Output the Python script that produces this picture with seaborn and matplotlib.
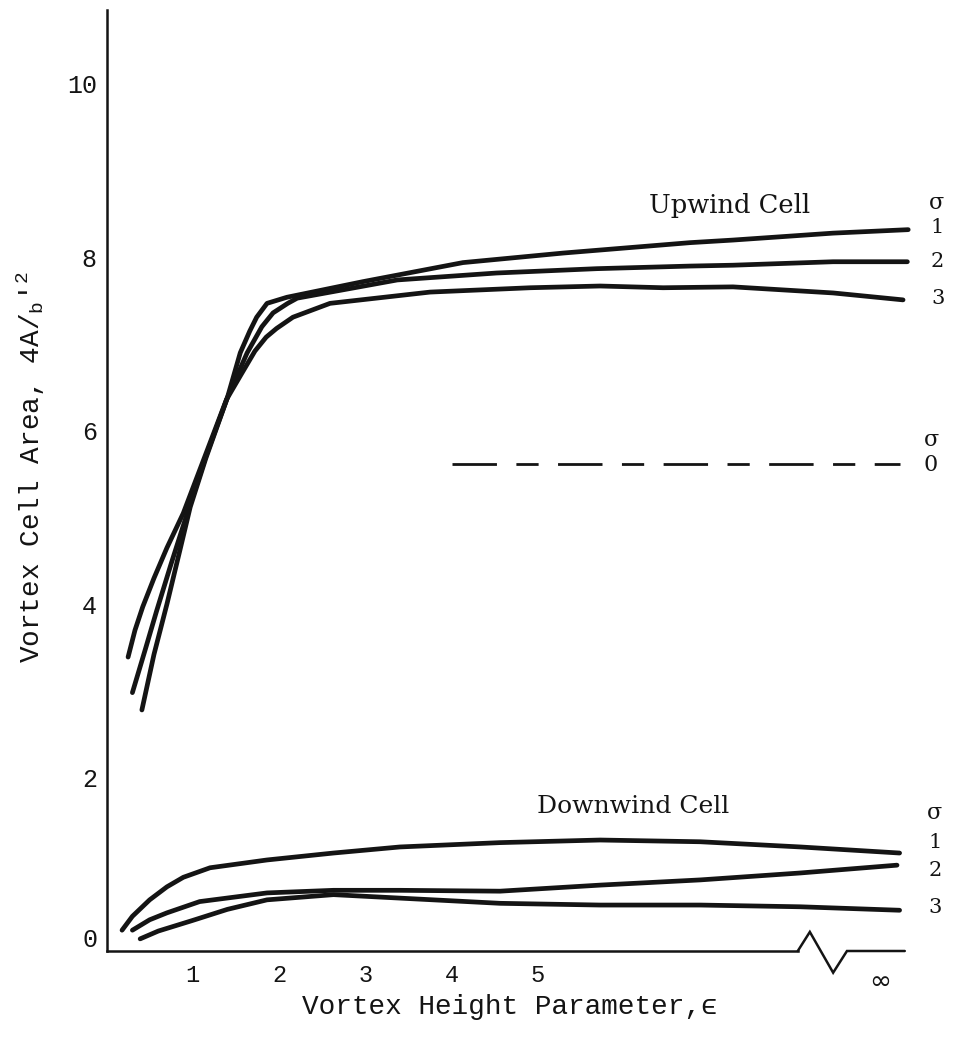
import matplotlib
matplotlib.use("Agg")
import matplotlib.pyplot as plt
import seaborn as sns
import pandas as pd

# Vortex height parameter (plot position; the far right stands for epsilon -> infinity)
UP_S1_EPS = [0.41, 0.55, 0.70, 0.85, 0.97, 1.15, 1.40, 1.55, 1.66, 1.74, 1.86, 2.09,
             2.97, 4.13, 5.29, 6.76, 7.26, 8.42, 9.29]
UP_S1_AREA = [2.78, 3.42, 4.00, 4.62, 5.12, 5.68, 6.38, 6.90, 7.15, 7.31, 7.47, 7.54,
              7.72, 7.94, 8.05, 8.17, 8.20, 8.28, 8.32]

UP_S2_EPS = [0.30, 0.45, 0.58, 0.75, 0.92, 1.15, 1.40, 1.63, 1.80, 1.93, 2.10, 2.21,
             3.37, 4.52, 5.68, 6.76, 7.26, 8.42, 9.28]
UP_S2_AREA = [2.98, 3.48, 3.92, 4.47, 5.00, 5.70, 6.38, 6.90, 7.20, 7.36, 7.47, 7.53,
              7.74, 7.82, 7.87, 7.90, 7.91, 7.95, 7.95]

UP_S3_EPS = [0.25, 0.33, 0.42, 0.55, 0.70, 0.89, 1.10, 1.39, 1.56, 1.72, 1.85, 1.97, 2.16,
             2.59, 3.75, 4.91, 5.72, 6.45, 7.26, 8.42, 9.23]
UP_S3_AREA = [3.39, 3.70, 3.97, 4.30, 4.65, 5.05, 5.60, 6.36, 6.65, 6.92, 7.08, 7.18, 7.31,
              7.47, 7.60, 7.65, 7.67, 7.65, 7.66, 7.59, 7.51]

DN_S1_EPS = [0.18, 0.30, 0.50, 0.70, 0.89, 1.20, 1.86, 2.63, 3.40, 4.56, 5.72, 6.88, 8.04, 9.19]
DN_S1_AREA = [0.24, 0.40, 0.59, 0.74, 0.85, 0.96, 1.05, 1.13, 1.20, 1.25, 1.28, 1.26, 1.20, 1.13]

DN_S2_EPS = [0.30, 0.50, 0.70, 1.08, 1.86, 2.63, 3.40, 4.56, 5.72, 6.88, 8.04, 9.16]
DN_S2_AREA = [0.24, 0.36, 0.44, 0.57, 0.67, 0.70, 0.70, 0.69, 0.76, 0.82, 0.90, 0.99]

DN_S3_EPS = [0.39, 0.60, 0.99, 1.40, 1.86, 2.63, 3.40, 4.56, 5.72, 6.88, 8.04, 9.19]
DN_S3_AREA = [0.14, 0.23, 0.35, 0.48, 0.59, 0.65, 0.61, 0.55, 0.53, 0.53, 0.51, 0.47]

SIGMA0_AREA = 5.62
SIGMA0_EPS = [4.0, 9.2]

X_TICKS = [1, 2, 3, 4, 5]
Y_TICKS = [0, 2, 4, 6, 8, 10]
SIGMA_LABELS = ["1", "2", "3"]

series = [
    ("Upwind", "1", UP_S1_EPS, UP_S1_AREA),
    ("Upwind", "2", UP_S2_EPS, UP_S2_AREA),
    ("Upwind", "3", UP_S3_EPS, UP_S3_AREA),
    ("Downwind", "1", DN_S1_EPS, DN_S1_AREA),
    ("Downwind", "2", DN_S2_EPS, DN_S2_AREA),
    ("Downwind", "3", DN_S3_EPS, DN_S3_AREA),
]
df = pd.concat(
    [pd.DataFrame({"cell": c, "sigma": s, "eps": e, "area": a}) for c, s, e, a in series],
    ignore_index=True,
)

sns.set_theme(style="white")
plt.rcParams["font.family"] = ["Liberation Mono", "DejaVu Sans"]
plt.rcParams["mathtext.fontset"] = "custom"
plt.rcParams["mathtext.rm"] = "Liberation Mono"
plt.rcParams["mathtext.it"] = "Liberation Mono"

INK = "#141414"
W, H = 957, 1045
PX = 86.3  # pixels per x unit
PY = 86.7  # pixels per y unit
XMAX, YMAX = 9.6, 10.85

fig = plt.figure(figsize=(W / 100, H / 100), dpi=100)
ax = fig.add_axes([106.5 / W, 94 / H, XMAX * PX / W, YMAX * PY / H])
ax.set_xlim(0, XMAX)
ax.set_ylim(0, YMAX)

for (cell, sig), grp in df.groupby(["cell", "sigma"]):
    sns.lineplot(data=grp, x="eps", y="area", ax=ax, color=INK, linewidth=3.4,
                 sort=False, estimator=None, legend=False,
                 solid_capstyle="round", solid_joinstyle="round")

ax.hlines(SIGMA0_AREA, SIGMA0_EPS[0], SIGMA0_EPS[1], colors=INK, linewidth=2.0,
          linestyles=[(0, (16, 7, 8, 7))])

# axes frame
for side in ("top", "right"):
    ax.spines[side].set_visible(False)
ax.spines["left"].set_linewidth(1.8)
ax.spines["left"].set_color(INK)
ax.spines["bottom"].set_linewidth(1.8)
ax.spines["bottom"].set_color(INK)
ax.spines["bottom"].set_bounds(0, 8.01)

# axis break before the infinity position
ax.plot([8.01, 8.15, 8.42, 8.58, 9.25], [0, 0.22, -0.25, 0, 0], color=INK,
        linewidth=1.8, clip_on=False, solid_joinstyle="miter")

ax.set_xticks(X_TICKS)
ax.set_xticklabels([str(t) for t in X_TICKS])
ax.set_yticks(Y_TICKS)
# the zero label sits a little above the corner, drawn separately below
ax.set_yticklabels(["" if t == 0 else str(t) for t in Y_TICKS])
ax.tick_params(axis="x", direction="in", length=16, width=1.5, color=INK,
               labelsize=17, pad=9, labelcolor=INK)
ax.tick_params(axis="y", direction="in", length=18, width=1.5, color=INK,
               labelsize=18, pad=7, labelcolor=INK)
ax.text(-0.11, 0.13, str(Y_TICKS[0]), ha="right", va="center", fontsize=18, color=INK)

ax.text(8.96, -0.36, "\u221e", ha="center", va="center", fontsize=19,
        family="DejaVu Sans", color=INK)

ax.set_xlabel("Vortex Height Parameter,\u03f5", fontsize=20, color=INK)
ax.xaxis.set_label_coords(0.487, -0.046)
ax.set_ylabel("Vortex Cell Area, 4A/$_{\\mathrm{b}}$'$^{2}$", fontsize=20, color=INK)
ax.yaxis.set_label_coords(-0.072, 0.514)

serif = ["DejaVu Serif"]
ax.text(7.22, 8.60, "Upwind Cell", ha="center", va="center", fontsize=18.5,
        family=serif, color=INK)
ax.text(6.10, 1.67, "Downwind Cell", ha="center", va="center", fontsize=18,
        family=serif, color=INK)

# sigma keys at the right-hand ends of the curves
ax.text(9.62, 8.63, "\u03c3", ha="center", va="center", fontsize=16, family=serif, color=INK)
for lab, yy in zip(SIGMA_LABELS, [8.34, 7.95, 7.53]):
    ax.text(9.63, yy, lab, ha="center", va="center", fontsize=15, family=serif, color=INK)
ax.text(9.60, 1.59, "\u03c3", ha="center", va="center", fontsize=16, family=serif, color=INK)
for lab, yy in zip(SIGMA_LABELS, [1.25, 0.93, 0.50]):
    ax.text(9.60, yy, lab, ha="center", va="center", fontsize=15, family=serif, color=INK)
ax.text(9.56, 5.89, "\u03c3", ha="center", va="center", fontsize=16, family=serif, color=INK)
ax.text(9.55, 5.60, "0", ha="center", va="center", fontsize=16, family=serif, color=INK)

fig.savefig("out.png", dpi=100, facecolor="white")
